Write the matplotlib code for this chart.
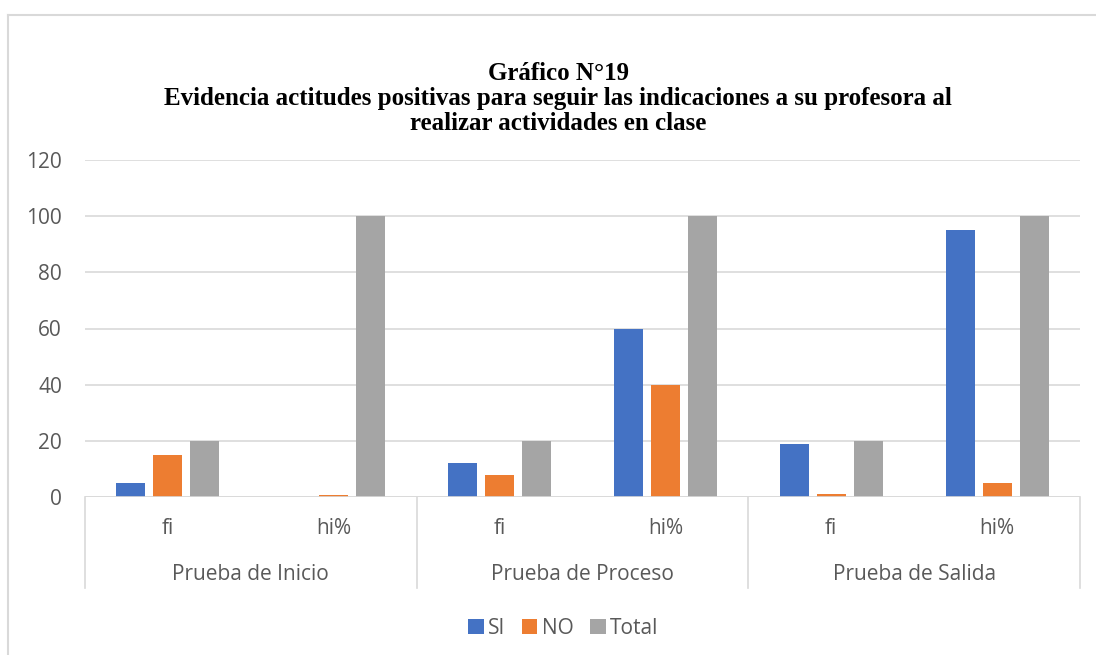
import matplotlib
matplotlib.use("Agg")
import matplotlib.pyplot as plt
import matplotlib.transforms as mtransforms
from matplotlib.patches import Patch
from matplotlib.lines import Line2D
import numpy as np

# Chart data
groups = ["Prueba de Inicio", "Prueba de Proceso", "Prueba de Salida"]
subcats = ["fi", "hi%", "fi", "hi%", "fi", "hi%"]
series_names = ["SI", "NO", "Total"]
si_vals = [5, 0, 12, 60, 19, 95]
no_vals = [15, 0.75, 8, 40, 1, 5]
total_vals = [20, 100, 20, 100, 20, 100]
y_ticks = [0, 20, 40, 60, 80, 100, 120]

colors = ["#4472C4", "#ED7D31", "#A5A5A5"]
grid_c = "#D9D9D9"
text_c = "#595959"
sans = ["Open Sans", "DejaVu Sans"]
fs = 15

W, H = 1096, 655
fig = plt.figure(figsize=(W / 100, H / 100), dpi=100)

# Chart area frame (left and top edges visible)
fig.add_artist(Line2D([8 / W, 8 / W], [0, 1 - 15 / H], color=grid_c, lw=1.5,
                      transform=fig.transFigure))
fig.add_artist(Line2D([8 / W, 1], [1 - 15 / H, 1 - 15 / H], color=grid_c, lw=1.5,
                      transform=fig.transFigure))

ax = fig.add_axes([85 / W, 1 - 497 / H, (1080 - 85) / W, (497 - 160) / H])

n = len(subcats)
x = np.arange(n) + 0.5
step = 0.223
width = 0.175
for k, vals in enumerate([si_vals, no_vals, total_vals]):
    ax.bar(x + (k - 1) * step, vals, width=width, color=colors[k], zorder=3,
           label=series_names[k])

ax.set_xlim(0, n)
ax.set_ylim(0, 120)
ax.set_yticks(y_ticks)
ax.set_yticklabels([str(v) for v in y_ticks], fontsize=fs, color=text_c,
                   family=sans)
ax.tick_params(axis="y", length=0, pad=16.5)
ax.tick_params(axis="x", length=0, labelbottom=False)
ax.yaxis.grid(True, color=grid_c, lw=1.2, zorder=0)
for s in ax.spines.values():
    s.set_visible(False)
ax.axhline(0, color=grid_c, lw=1.2, zorder=4)

# Two-level category axis
blend = mtransforms.blended_transform_factory(ax.transData, fig.transFigure)
for xs in [0, 2, 4, 6]:
    ax.add_line(Line2D([xs, xs], [1 - 588 / H, 1 - 497 / H], color=grid_c,
                       lw=1.2, transform=blend, clip_on=False))
for i, lab in enumerate(subcats):
    ax.text(x[i], 1 - 529 / H, lab, transform=blend, ha="center", va="center",
            fontsize=fs, color=text_c, family=sans)
for g, lab in enumerate(groups):
    ax.text(2 * g + 1, 1 - 575 / H, lab, transform=blend, ha="center",
            va="center", fontsize=fs, color=text_c, family=sans)

# Title
title_lines = [
    "Gráfico N°19",
    "Evidencia actitudes positivas para seguir las indicaciones a su profesora al",
    "realizar actividades en clase",
]
for yy, t in zip([74, 99, 123], title_lines):
    fig.text(558 / W, 1 - yy / H, t, ha="center", va="center", fontsize=18,
             fontweight="bold", family=["Liberation Serif", "DejaVu Serif"],
             color="black")

handles = [Patch(facecolor=c, edgecolor="none") for c in colors]
fig.legend(handles, series_names, loc="center", bbox_to_anchor=(563 / W, 1 - 628 / H),
           ncol=3, frameon=False, handlelength=0.75, handleheight=0.75,
           handletextpad=0.2, columnspacing=0.8,
           prop={"family": sans, "size": fs}, labelcolor=text_c)

fig.savefig("out.png", dpi=100, facecolor="white")
